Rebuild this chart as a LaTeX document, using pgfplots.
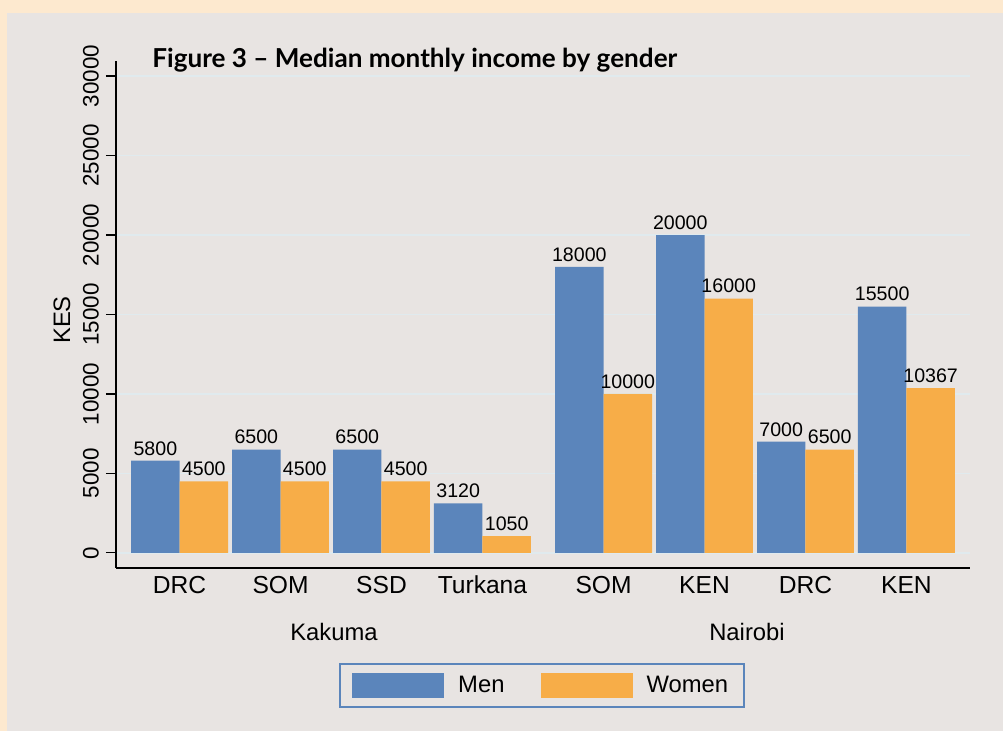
\documentclass[border=0pt]{standalone}
\usepackage{fontspec}
\setmainfont{Liberation Sans}
\newfontfamily\titlefont{Lato}
\usepackage{pgfplots}
\pgfplotsset{compat=1.18}
\definecolor{peach}{RGB}{253,233,207}
\definecolor{panel}{RGB}{232,228,226}
\definecolor{menc}{RGB}{91,133,187}
\definecolor{womenc}{RGB}{247,173,72}
\definecolor{gridc}{RGB}{224,234,238}
\pgfplotsset{mylegend/.style={legend image code/.code={\fill[##1] (0pt,-6.25pt) rectangle (46pt,6.25pt);}}}
\begin{document}
\begin{tikzpicture}
\useasboundingbox (0pt,0pt) rectangle (501.5pt,365.5pt);
\fill[peach] (0pt,0pt) rectangle (501.5pt,365.5pt);
\fill[panel] (3.5pt,0pt) rectangle (501.5pt,359pt);
\begin{axis}[
  at={(58pt,81.5pt)}, anchor=south west,
  scale only axis, width=427pt, height=253.5pt,
  xmin=-0.63, xmax=7.83, ymin=-950, ymax=30950,
  axis x line*=bottom, axis y line*=left,
  axis line style={-, black, line width=0.6pt},
  ybar=0pt, bar width=0.48,
  xtick={0,1,2,3,4.2,5.2,6.2,7.2},
  xticklabels={DRC,SOM,SSD,Turkana,SOM,KEN,DRC,KEN},
  x tick style={draw=none},
  ytick={0,5000,10000,15000,20000,25000,30000},
  y tick style={black, line width=0.6pt},
  tick align=outside, major tick length=5pt,
  scaled y ticks=false,
  /pgf/number format/1000 sep={},
  /pgf/number format/assume math mode=true,
  ymajorgrids, grid style={gridc, line width=0.9pt},
  xticklabel style={font=\fontsize{12.3}{14}\selectfont, text height=9pt, text depth=0pt, yshift=5pt},
  yticklabel style={font=\fontsize{11.2}{13}\selectfont, rotate=90, anchor=south},
  ylabel={KES},
  ylabel style={font=\fontsize{11.9}{14}\selectfont, at={(axis description cs:-0.0632,0.489)}, anchor=center},
  nodes near coords,
  nodes near coords style={font=\fontsize{9.8}{11}\selectfont, text=black, inner sep=2.5pt},
  legend columns=2,
  legend style={at={(0.499,-0.232)}, anchor=center, draw=menc, line width=1pt, fill=panel,
    font=\fontsize{11.9}{14}\selectfont,
    /tikz/every odd column/.append style={column sep=5pt},
    /tikz/every even column/.append style={column sep=16pt},
    inner xsep=6pt, inner ysep=4pt},
]
\addplot[fill=menc, draw=none, mylegend] coordinates {(0,5800) (1,6500) (2,6500) (3,3120) (4.2,18000) (5.2,20000) (6.2,7000) (7.2,15500)};
\addlegendentry{Men}
\addplot[fill=womenc, draw=none, mylegend] coordinates {(0,4500) (1,4500) (2,4500) (3,1050) (4.2,10000) (5.2,16000) (6.2,6500) (7.2,10367)};
\addlegendentry{Women}
\end{axis}
\node[anchor=west, inner sep=0pt, font=\titlefont\bfseries\fontsize{13.05}{15}\selectfont] at (76pt,335.5pt) {Figure 3 – Median monthly income by gender};
\node[font=\fontsize{11.9}{14}\selectfont] at (167pt,49.5pt) {Kakuma};
\node[font=\fontsize{11.9}{14}\selectfont] at (373.5pt,49.5pt) {Nairobi};
\end{tikzpicture}
\end{document}
